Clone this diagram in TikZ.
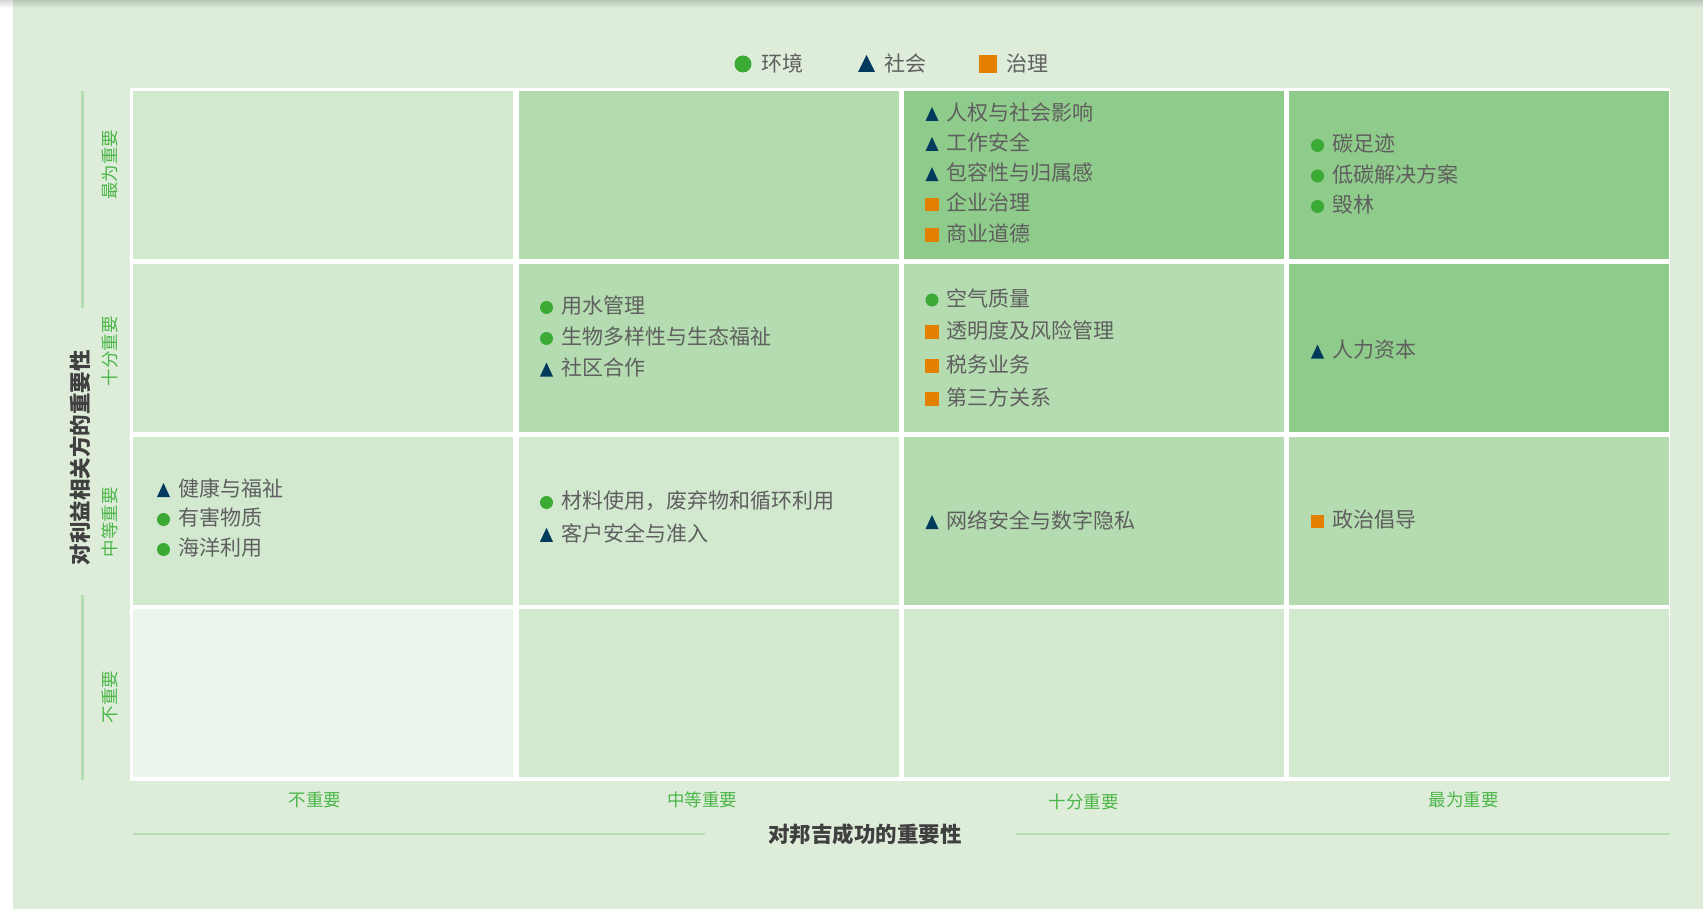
\documentclass[tikz,border=0pt]{standalone}
\usepackage{fontspec}
\setmainfont{Noto Sans CJK SC}
\definecolor{bg}{RGB}{222,237,218}
\definecolor{cX}{RGB}{235,245,235}
\definecolor{cL}{RGB}{210,233,208}
\definecolor{cM}{RGB}{180,220,176}
\definecolor{cD}{RGB}{143,203,138}
\definecolor{axisc}{RGB}{181,219,177}
\definecolor{lab}{RGB}{76,182,72}
\definecolor{txt}{RGB}{95,95,95}
\definecolor{ttl}{RGB}{64,64,64}
\definecolor{gE}{RGB}{58,170,53}
\definecolor{bS}{RGB}{0,59,93}
\definecolor{oG}{RGB}{227,128,0}
\newcommand\edot[4]{\node[dotm] (#1m) at (#2,{#3+1.5}) {}; \node[itemtext] (#1) at ({#2+14.5},#3) {#4};}
\newcommand\esq[4]{\node[sqm] (#1m) at (#2,{#3+1.5}) {}; \node[itemtext] (#1) at ({#2+14.5},#3) {#4};}
\newcommand\etri[4]{\pic (#1m) at (#2,{#3+1.5}) {tri}; \node[itemtext] (#1) at ({#2+14.5},#3) {#4};}
\begin{document}
\begin{tikzpicture}[x=1pt,y=-1pt,
  cell/.style={rectangle, draw=none, inner sep=0pt, minimum width=380pt, minimum height=168pt, anchor=north west},
  itemtext/.style={anchor=west, inner sep=0pt, text=txt, font=\fontsize{21}{24}\selectfont, text height=18.3pt, text depth=2.5pt},
  dotm/.style={circle, fill=gE, draw=none, inner sep=0pt, minimum size=13pt},
  sqm/.style={rectangle, fill=oG, draw=none, inner sep=0pt, minimum size=13.5pt},
  tri/.pic={\fill[bS] (-6.5,7) -- (6.5,7) -- (0,-7) -- cycle;},
  bigtri/.pic={\fill[bS] (-8.5,8.5) -- (8.5,8.5) -- (0,-8.5) -- cycle;},
  sidelab/.style={rotate=90, inner sep=0pt, text=lab, font=\fontsize{17.5}{20}\selectfont},
  botlab/.style={inner sep=0pt, text=lab, font=\fontsize{17.5}{20}\selectfont},
  axtitle/.style={inner sep=0pt, text=ttl, font=\bfseries\fontsize{21.5}{24}\selectfont},
  axisline/.style={draw=axisc, line width=2.8pt},
]
\useasboundingbox (0,0) rectangle (1703,909);
\fill[white] (0,0) rectangle (1703,909);
\fill[bg] (13,0) rectangle (1703,909);
\foreach \i in {0,...,7} \fill[black, opacity=0.02] (0,0) rectangle (1703,{8-\i});
% white panel
\fill[white] (130,88) rectangle (1670,781);
% cells
\foreach \r/\c/\col in {1/1/cL,1/2/cM,1/3/cD,1/4/cD,
                        2/1/cL,2/2/cM,2/3/cM,2/4/cD,
                        3/1/cL,3/2/cL,3/3/cM,3/4/cM,
                        4/1/cX,4/2/cL,4/3/cL,4/4/cL}
  \node[cell, fill=\col] (c\r\c) at ({133+(\c-1)*385.33},{91+(\r-1)*172.67}) {};
% legend
\node[dotm, minimum size=17pt] (lgEm) at (743,64) {};
\node[itemtext, font=\fontsize{21}{24}\selectfont] (lgE) at (761,64) {环境};
\pic (lgSm) at (866.5,63.5) {bigtri};
\node[itemtext, font=\fontsize{21}{24}\selectfont] (lgS) at (884,64) {社会};
\node[sqm, minimum size=17.5pt] (lgGm) at (988,64) {};
\node[itemtext, font=\fontsize{21}{24}\selectfont] (lgG) at (1006,64) {治理};
% row 1
\etri{a1}{932}{112.5}{人权与社会影响}
\etri{a2}{932}{142.5}{工作安全}
\etri{a3}{932}{172.7}{包容性与归属感}
\esq{a4}{932}{203}{企业治理}
\esq{a5}{932}{233.4}{商业道德}
\edot{b1}{1317.5}{144}{碳足迹}
\edot{b2}{1317.5}{174.5}{低碳解决方案}
\edot{b3}{1317.5}{205}{毁林}
% row 2
\edot{d1}{546.5}{306}{用水管理}
\edot{d2}{546.5}{337}{生物多样性与生态福祉}
\etri{d3}{546.5}{368}{社区合作}
\edot{e1}{932}{298.5}{空气质量}
\esq{e2}{932}{330.5}{透明度及风险管理}
\esq{e3}{932}{364.5}{税务业务}
\esq{e4}{932}{397.5}{第三方关系}
\etri{f1}{1317.5}{350}{人力资本}
% row 3
\etri{g1}{163.5}{488.5}{健康与福祉}
\edot{g2}{163.5}{518}{有害物质}
\edot{g3}{163.5}{548}{海洋利用}
\edot{h1}{546.5}{501}{材料使用，废弃物和循环利用}
\etri{h2}{546.5}{533.3}{客户安全与准入}
\etri{i1}{932}{520.5}{网络安全与数字隐私}
\esq{j1}{1317.5}{520}{政治倡导}
% side labels
\node[sidelab] (yl1) at (110,165) {最为重要};
\node[sidelab] (yl2) at (110,351) {十分重要};
\node[sidelab] (yl3) at (110,522) {中等重要};
\node[sidelab] (yl4) at (110,697) {不重要};
% bottom labels
\node[botlab] (xl1) at (315,800) {不重要};
\node[botlab] (xl2) at (702,800) {中等重要};
\node[botlab] (xl3) at (1083.5,801.5) {十分重要};
\node[botlab] (xl4) at (1463.5,800) {最为重要};
% axis titles
\node[axtitle, rotate=90] (ytitle) at (80.4,457.5) {对利益相关方的重要性};
\node[axtitle] (xtitle) at (865,834) {对邦吉成功的重要性};
% axis lines
\coordinate (vA) at (82.3,91);
\coordinate (vB) at (82.3,308);
\coordinate (vC) at (82.3,595);
\coordinate (vD) at (82.3,780);
\coordinate (hA) at (133,834);
\coordinate (hB) at (705,834);
\coordinate (hC) at (1016,834);
\coordinate (hD) at (1670,834);
\draw[axisline] (vA) -- (vB);
\draw[axisline] (vC) -- (vD);
\draw[axisline] (hA) -- (hB);
\draw[axisline] (hC) -- (hD);
\end{tikzpicture}
\end{document}
